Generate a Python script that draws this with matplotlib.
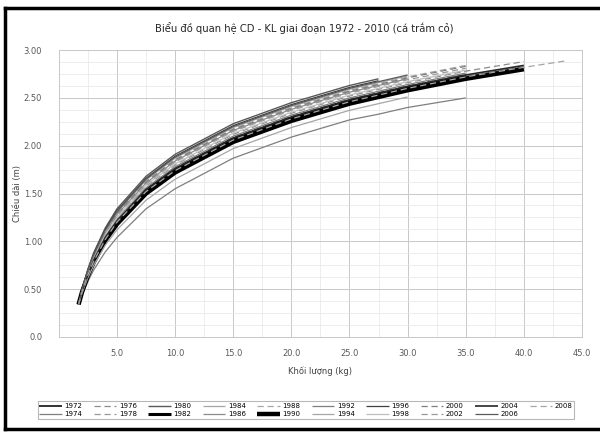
import matplotlib
matplotlib.use("Agg")
import matplotlib.pyplot as plt
from matplotlib.ticker import MultipleLocator, FixedLocator
from matplotlib.lines import Line2D

plt.rcParams['font.family'] = ['DejaVu Sans']

title = "Biểu đồ quan hệ CD - KL giai đoạn 1972 - 2010 (cá trắm cỏ)"
xlabel = "Khối lượng (kg)"
ylabel = "Chiều dài (m)"

x_grid = [1.7, 2, 2.5, 3, 4, 5, 7.5, 10, 15, 20, 25, 27.5, 30, 35, 40, 43.75]

labels = ["1972", "1974", "1976", "1978", "1980", "1982", "1984", "1986", "1988", "1990",
          "1992", "1994", "1996", "1998", "2000", "2002", "2004", "2006", "2008"]

s1972 = [0.34, 0.47, 0.65, 0.79, 1.02, 1.20, 1.52, 1.74, 2.06, 2.28, 2.46, 2.53, 2.60, 2.72, 2.82]
s1974 = [0.34, 0.44, 0.58, 0.70, 0.89, 1.04, 1.34, 1.55, 1.87, 2.09, 2.27, 2.33, 2.40, 2.50]
s1976 = [0.34, 0.48, 0.67, 0.82, 1.07, 1.25, 1.58, 1.80, 2.12, 2.34, 2.52, 2.59, 2.66, 2.78, 2.88]
s1978 = [0.34, 0.48, 0.66, 0.81, 1.05, 1.22, 1.55, 1.77, 2.09, 2.31, 2.49, 2.56, 2.63, 2.75]
s1980 = [0.34, 0.50, 0.71, 0.88, 1.14, 1.34, 1.68, 1.91, 2.23, 2.45, 2.63, 2.70]
s1982 = [0.34, 0.47, 0.65, 0.80, 1.03, 1.20, 1.53, 1.75, 2.07, 2.29, 2.47, 2.54, 2.61, 2.73]
s1984 = [0.34, 0.49, 0.69, 0.86, 1.12, 1.30, 1.64, 1.87, 2.19, 2.41, 2.59, 2.66, 2.73]
s1986 = [0.34, 0.49, 0.68, 0.84, 1.09, 1.28, 1.61, 1.84, 2.16, 2.38, 2.56, 2.63, 2.70]
s1988 = [0.34, 0.49, 0.69, 0.85, 1.11, 1.30, 1.63, 1.86, 2.18, 2.40, 2.58, 2.65, 2.72, 2.84]
s1990 = [0.34, 0.47, 0.64, 0.78, 1.01, 1.18, 1.50, 1.72, 2.04, 2.26, 2.44, 2.51, 2.58, 2.70, 2.80]
s1992 = [0.34, 0.48, 0.66, 0.81, 1.05, 1.23, 1.56, 1.78, 2.10, 2.32, 2.50, 2.57, 2.64, 2.76]
s1994 = [0.34, 0.46, 0.62, 0.75, 0.96, 1.12, 1.43, 1.65, 1.97, 2.19, 2.37, 2.44, 2.51]
s1996 = [0.34, 0.50, 0.70, 0.87, 1.13, 1.32, 1.66, 1.89, 2.21, 2.43, 2.61, 2.68]
s1998 = [0.34, 0.48, 0.67, 0.83, 1.07, 1.25, 1.59, 1.81, 2.13, 2.35, 2.53, 2.60, 2.67, 2.79]
s2000 = [0.34, 0.49, 0.69, 0.85, 1.10, 1.29, 1.62, 1.85, 2.17, 2.39, 2.57, 2.64, 2.71, 2.83]
s2002 = [0.34, 0.49, 0.68, 0.84, 1.09, 1.27, 1.60, 1.83, 2.15, 2.37, 2.55, 2.62, 2.69, 2.81]
s2004 = [0.34, 0.48, 0.65, 0.80, 1.04, 1.21, 1.54, 1.76, 2.08, 2.30, 2.48, 2.55, 2.62, 2.74, 2.84]
s2006 = [0.34, 0.49, 0.70, 0.86, 1.12, 1.31, 1.65, 1.88, 2.20, 2.42, 2.60, 2.67, 2.74]
s2008 = [0.34, 0.47, 0.65, 0.79, 1.02, 1.20, 1.52, 1.74, 2.06, 2.28, 2.46, 2.53, 2.60, 2.72, 2.82, 2.89]

series = [s1972, s1974, s1976, s1978, s1980, s1982, s1984, s1986, s1988, s1990,
          s1992, s1994, s1996, s1998, s2000, s2002, s2004, s2006, s2008]

# style: (color, linewidth, linestyle)
styles = [
    ('#333333', 1.4, '-'),
    ('#7f7f7f', 0.9, '-'),
    ('#8c8c8c', 0.9, (0, (5, 3))),
    ('#999999', 0.9, (0, (5, 3))),
    ('#595959', 1.0, '-'),
    ('#000000', 2.2, '-'),
    ('#a6a6a6', 0.9, '-'),
    ('#8c8c8c', 0.9, '-'),
    ('#a6a6a6', 0.9, (0, (5, 3))),
    ('#000000', 3.2, '-'),
    ('#7f7f7f', 0.9, '-'),
    ('#a6a6a6', 0.9, '-'),
    ('#404040', 0.9, '-'),
    ('#bfbfbf', 0.9, '-'),
    ('#7f7f7f', 0.9, (0, (5, 3))),
    ('#999999', 0.9, (0, (5, 3))),
    ('#262626', 1.2, '-'),
    ('#595959', 0.9, '-'),
    ('#a6a6a6', 0.9, (0, (5, 3))),
]

fig = plt.figure(figsize=(6, 4.32), dpi=100)
ax = fig.add_axes([0.098, 0.22, 0.872, 0.664])

handles = []
for lab, ys, (c, lw, ls) in zip(labels, series, styles):
    xs = x_grid[:len(ys)]
    h, = ax.plot(xs, ys, color=c, lw=lw, ls=ls, label=lab, solid_capstyle='butt')
    handles.append(h)

ax.set_xlim(0, 45)
ax.set_ylim(0, 3.0)
ax.xaxis.set_major_locator(FixedLocator([5, 10, 15, 20, 25, 30, 35, 40, 45]))
ax.xaxis.set_minor_locator(MultipleLocator(2.5))
ax.yaxis.set_major_locator(MultipleLocator(0.5))
ax.yaxis.set_minor_locator(MultipleLocator(0.125))
ax.set_xticklabels(["%.1f" % v for v in [5, 10, 15, 20, 25, 30, 35, 40, 45]])
ax.set_yticks([0, 0.5, 1.0, 1.5, 2.0, 2.5, 3.0])
ax.set_yticklabels(["0.0", "0.50", "1.00", "1.50", "2.00", "2.50", "3.00"])
ax.tick_params(axis='x', which='both', length=0, labelsize=6, colors='#595959', pad=9)
ax.tick_params(axis='y', which='both', length=0, labelsize=6, colors='#595959', pad=12)
ax.grid(True, which='major', color='#c8c8c8', lw=0.7)
ax.grid(True, which='minor', color='#e6e6e6', lw=0.5)
ax.set_axisbelow(True)
for sp in ax.spines.values():
    sp.set_color('#c8c8c8')
    sp.set_linewidth(0.7)

ax.set_xlabel(xlabel, fontsize=6, color='#404040', labelpad=6)
ax.set_ylabel(ylabel, fontsize=6, color='#404040', labelpad=1)
fig.text(0.507, 0.935, title, ha='center', va='center', fontsize=7.2, color='#262626')

leg = fig.legend(handles=handles, loc='lower left', ncol=10,
                 bbox_to_anchor=(0.057, 0.022, 0.906, 0.047), mode='expand',
                 fontsize=5, frameon=True, fancybox=False, handlelength=3.2,
                 handletextpad=0.4, columnspacing=0.6, borderpad=0.25,
                 labelspacing=0.3, edgecolor='#a6a6a6')
leg.get_frame().set_linewidth(0.8)

# outer border (left, top, bottom)
fig.add_artist(Line2D([0.009, 0.009], [0.006, 0.982], transform=fig.transFigure, color='black', lw=2.5))
fig.add_artist(Line2D([0.009, 1.0], [0.982, 0.982], transform=fig.transFigure, color='black', lw=2.5))
fig.add_artist(Line2D([0.009, 1.0], [0.008, 0.008], transform=fig.transFigure, color='black', lw=2.5))

fig.savefig("out.png", dpi=100)
